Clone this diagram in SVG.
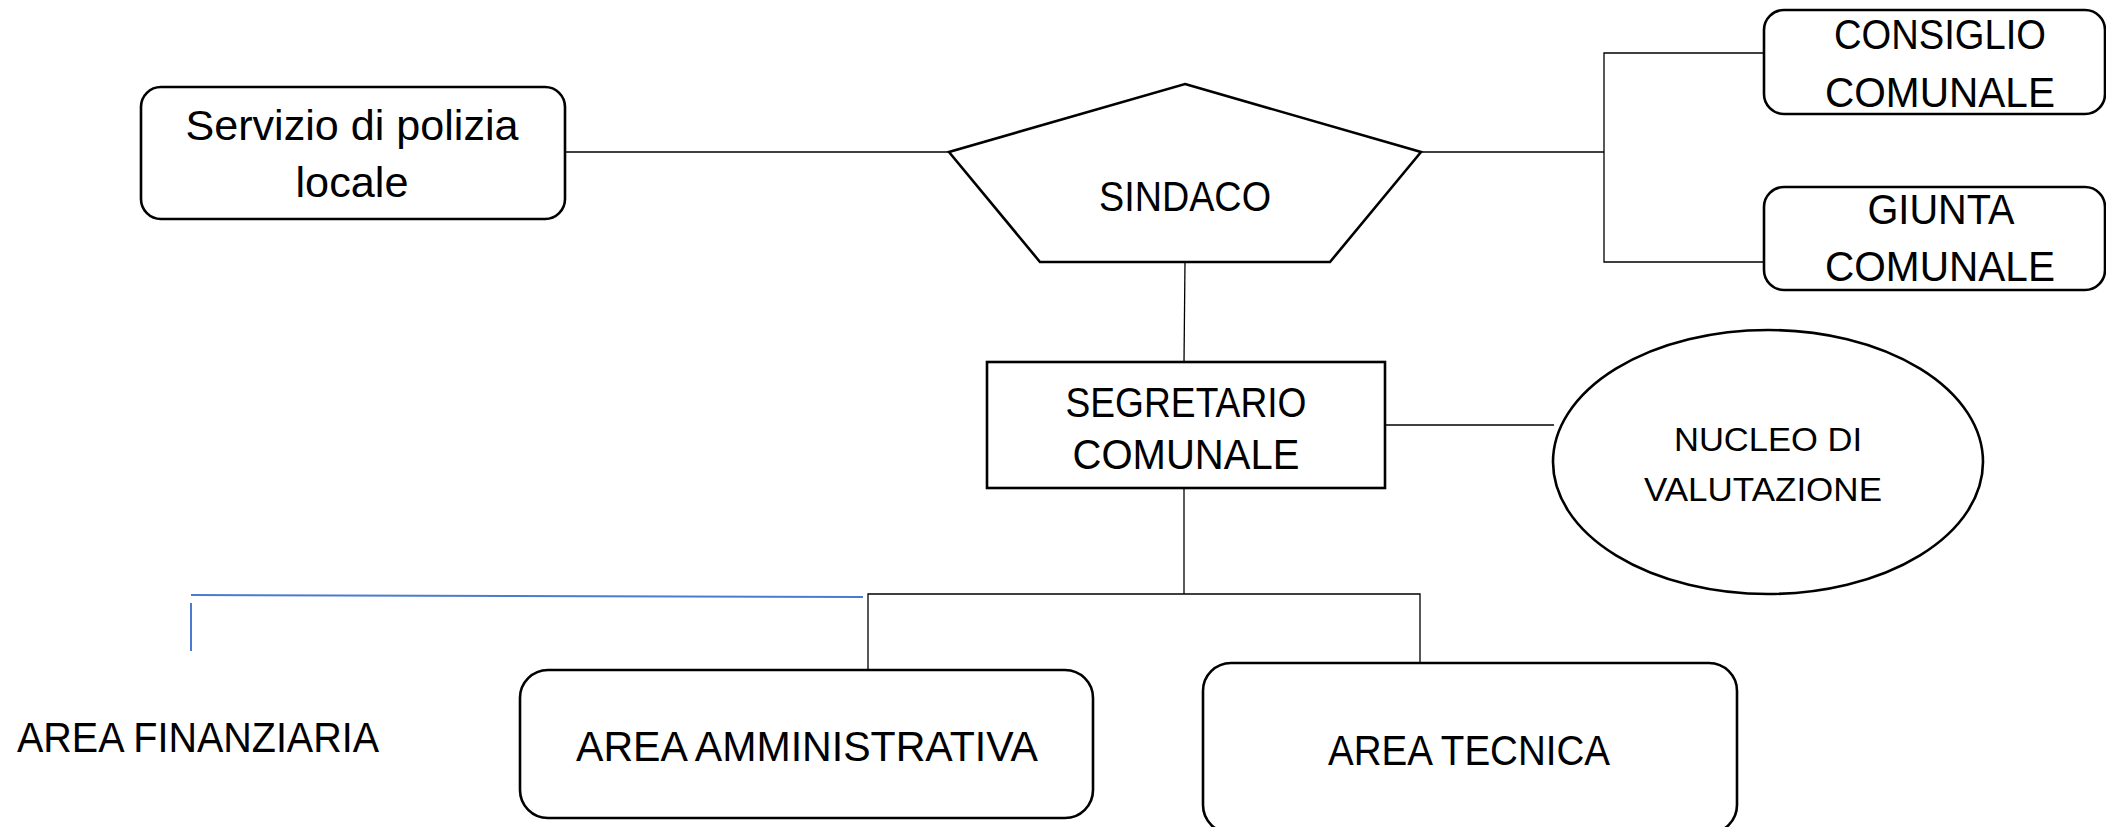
<svg xmlns="http://www.w3.org/2000/svg" width="2106" height="827" viewBox="0 0 2106 827">
<style>
.box{fill:#fff;stroke:#000;stroke-width:2.6}
.ln{fill:none;stroke:#000;stroke-width:1.3}
.bl{fill:none;stroke:#4A7BD0;stroke-width:2}
.t{font-family:"Liberation Sans",Arial,sans-serif;font-size:42px;fill:#000;text-anchor:middle}
.s{font-size:34px}
</style>
<rect width="2106" height="827" fill="#fff"/>
<g id="connectors">
<line class="ln" x1="565" y1="152" x2="949" y2="152"/>
<polyline class="ln" points="1421,152 1604,152"/>
<polyline class="ln" points="1764,53 1604,53 1604,262 1764,262"/>
<line class="ln" x1="1185" y1="262" x2="1184" y2="362"/>
<line class="ln" x1="1385" y1="425" x2="1554" y2="425"/>
<line class="ln" x1="1184" y1="488" x2="1184" y2="594"/>
<polyline class="ln" points="868,669 868,594 1420,594 1420,663"/>
<line class="bl" x1="191" y1="595" x2="863" y2="597"/>
<line class="bl" x1="191" y1="603" x2="191" y2="651"/>
</g>
<g id="servizio">
<rect class="box" x="141" y="87" width="424" height="132" rx="20"/>
<text class="t" x="352" y="140" textLength="333" lengthAdjust="spacingAndGlyphs">Servizio di polizia</text>
<text class="t" x="352" y="197" textLength="113" lengthAdjust="spacingAndGlyphs">locale</text>
</g>
<g id="sindaco">
<polygon class="box" points="1185,84 1421,152 1330,262 1040,262 949,152"/>
<text class="t" x="1185" y="211" textLength="172" lengthAdjust="spacingAndGlyphs">SINDACO</text>
</g>
<g id="consiglio">
<rect class="box" x="1764" y="10" width="341" height="104" rx="20"/>
<text class="t" x="1940" y="49" textLength="212" lengthAdjust="spacingAndGlyphs">CONSIGLIO</text>
<text class="t" x="1940" y="107" textLength="230" lengthAdjust="spacingAndGlyphs">COMUNALE</text>
</g>
<g id="giunta">
<rect class="box" x="1764" y="187" width="341" height="103" rx="20"/>
<text class="t" x="1941" y="224" textLength="147" lengthAdjust="spacingAndGlyphs">GIUNTA</text>
<text class="t" x="1940" y="281" textLength="230" lengthAdjust="spacingAndGlyphs">COMUNALE</text>
</g>
<g id="segretario">
<rect class="box" x="987" y="362" width="398" height="126"/>
<text class="t" x="1186" y="417" textLength="241" lengthAdjust="spacingAndGlyphs">SEGRETARIO</text>
<text class="t" x="1186" y="469" textLength="227" lengthAdjust="spacingAndGlyphs">COMUNALE</text>
</g>
<g id="nucleo">
<ellipse class="box" cx="1768" cy="462" rx="215" ry="132"/>
<text class="t s" x="1768" y="451" textLength="188" lengthAdjust="spacingAndGlyphs">NUCLEO DI</text>
<text class="t s" x="1763" y="501" textLength="238" lengthAdjust="spacingAndGlyphs">VALUTAZIONE</text>
</g>
<g id="finanziaria">
<text class="t" x="198" y="752" textLength="362" lengthAdjust="spacingAndGlyphs">AREA FINANZIARIA</text>
</g>
<g id="amministrativa">
<rect class="box" x="520" y="670" width="573" height="148" rx="28"/>
<text class="t" x="807" y="761" textLength="462" lengthAdjust="spacingAndGlyphs">AREA AMMINISTRATIVA</text>
</g>
<g id="tecnica">
<rect class="box" x="1203" y="663" width="534" height="170" rx="28"/>
<text class="t" x="1469" y="765" textLength="282" lengthAdjust="spacingAndGlyphs">AREA TECNICA</text>
</g>
</svg>
